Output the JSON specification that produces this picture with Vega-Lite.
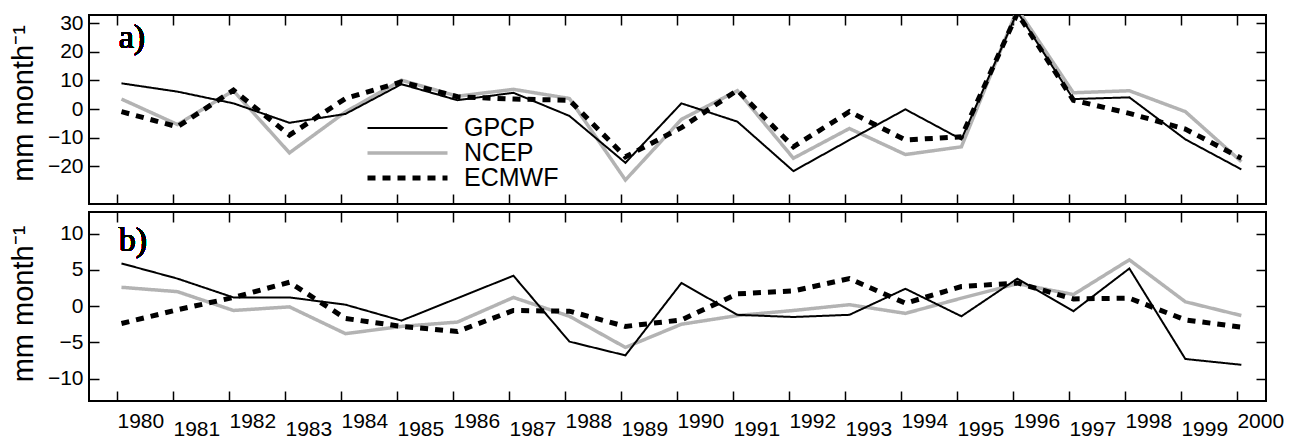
{
  "$schema": "https://vega.github.io/schema/vega-lite/v6.json",
  "padding": {"left": 8, "top": 11, "right": 5, "bottom": 0},
  "background": "white",
  "datasets": {
    "a": [
      {"series": "NCEP", "year": 1980, "value": 3.5}, {"series": "NCEP", "year": 1981, "value": -5.4}, {"series": "NCEP", "year": 1982, "value": 6.4}, {"series": "NCEP", "year": 1983, "value": -15.3}, {"series": "NCEP", "year": 1984, "value": -1.0}, {"series": "NCEP", "year": 1985, "value": 10.1}, {"series": "NCEP", "year": 1986, "value": 4.5}, {"series": "NCEP", "year": 1987, "value": 6.9}, {"series": "NCEP", "year": 1988, "value": 3.7}, {"series": "NCEP", "year": 1989, "value": -24.8}, {"series": "NCEP", "year": 1990, "value": -3.6}, {"series": "NCEP", "year": 1991, "value": 6.4}, {"series": "NCEP", "year": 1992, "value": -17.2}, {"series": "NCEP", "year": 1993, "value": -6.8}, {"series": "NCEP", "year": 1994, "value": -15.9}, {"series": "NCEP", "year": 1995, "value": -13.2}, {"series": "NCEP", "year": 1996, "value": 35}, {"series": "NCEP", "year": 1997, "value": 5.7}, {"series": "NCEP", "year": 1998, "value": 6.4}, {"series": "NCEP", "year": 1999, "value": -0.9}, {"series": "NCEP", "year": 2000, "value": -18.4},
      {"series": "GPCP", "year": 1980, "value": 9.0}, {"series": "GPCP", "year": 1981, "value": 6.1}, {"series": "GPCP", "year": 1982, "value": 2.0}, {"series": "GPCP", "year": 1983, "value": -4.8}, {"series": "GPCP", "year": 1984, "value": -1.7}, {"series": "GPCP", "year": 1985, "value": 8.7}, {"series": "GPCP", "year": 1986, "value": 3.1}, {"series": "GPCP", "year": 1987, "value": 5.7}, {"series": "GPCP", "year": 1988, "value": -2.4}, {"series": "GPCP", "year": 1989, "value": -18.8}, {"series": "GPCP", "year": 1990, "value": 2.0}, {"series": "GPCP", "year": 1991, "value": -4.4}, {"series": "GPCP", "year": 1992, "value": -21.7}, {"series": "GPCP", "year": 1993, "value": -10.8}, {"series": "GPCP", "year": 1994, "value": -0.1}, {"series": "GPCP", "year": 1995, "value": -10.6}, {"series": "GPCP", "year": 1996, "value": 34}, {"series": "GPCP", "year": 1997, "value": 3.5}, {"series": "GPCP", "year": 1998, "value": 4.1}, {"series": "GPCP", "year": 1999, "value": -10.6}, {"series": "GPCP", "year": 2000, "value": -21.1},
      {"series": "ECMWF", "year": 1980, "value": -0.9}, {"series": "ECMWF", "year": 1981, "value": -6.2}, {"series": "ECMWF", "year": 1982, "value": 6.6}, {"series": "ECMWF", "year": 1983, "value": -9.1}, {"series": "ECMWF", "year": 1984, "value": 3.7}, {"series": "ECMWF", "year": 1985, "value": 9.5}, {"series": "ECMWF", "year": 1986, "value": 4.3}, {"series": "ECMWF", "year": 1987, "value": 3.5}, {"series": "ECMWF", "year": 1988, "value": 3.1}, {"series": "ECMWF", "year": 1989, "value": -16.7}, {"series": "ECMWF", "year": 1990, "value": -6.5}, {"series": "ECMWF", "year": 1991, "value": 6.6}, {"series": "ECMWF", "year": 1992, "value": -13.2}, {"series": "ECMWF", "year": 1993, "value": -0.9}, {"series": "ECMWF", "year": 1994, "value": -10.8}, {"series": "ECMWF", "year": 1995, "value": -9.7}, {"series": "ECMWF", "year": 1996, "value": 33.5}, {"series": "ECMWF", "year": 1997, "value": 3.1}, {"series": "ECMWF", "year": 1998, "value": -1.5}, {"series": "ECMWF", "year": 1999, "value": -7.0}, {"series": "ECMWF", "year": 2000, "value": -17.2}
    ],
    "b": [
      {"series": "NCEP", "year": 1980, "value": 2.6}, {"series": "NCEP", "year": 1981, "value": 2.0}, {"series": "NCEP", "year": 1982, "value": -0.6}, {"series": "NCEP", "year": 1983, "value": -0.1}, {"series": "NCEP", "year": 1984, "value": -3.8}, {"series": "NCEP", "year": 1985, "value": -2.8}, {"series": "NCEP", "year": 1986, "value": -2.2}, {"series": "NCEP", "year": 1987, "value": 1.2}, {"series": "NCEP", "year": 1988, "value": -1.4}, {"series": "NCEP", "year": 1989, "value": -5.7}, {"series": "NCEP", "year": 1990, "value": -2.5}, {"series": "NCEP", "year": 1991, "value": -1.3}, {"series": "NCEP", "year": 1992, "value": -0.6}, {"series": "NCEP", "year": 1993, "value": 0.2}, {"series": "NCEP", "year": 1994, "value": -1.0}, {"series": "NCEP", "year": 1995, "value": 1.1}, {"series": "NCEP", "year": 1996, "value": 3.1}, {"series": "NCEP", "year": 1997, "value": 1.6}, {"series": "NCEP", "year": 1998, "value": 6.4}, {"series": "NCEP", "year": 1999, "value": 0.6}, {"series": "NCEP", "year": 2000, "value": -1.3},
      {"series": "GPCP", "year": 1980, "value": 5.9}, {"series": "GPCP", "year": 1981, "value": 3.8}, {"series": "GPCP", "year": 1982, "value": 1.2}, {"series": "GPCP", "year": 1983, "value": 1.2}, {"series": "GPCP", "year": 1984, "value": 0.2}, {"series": "GPCP", "year": 1985, "value": -2.0}, {"series": "GPCP", "year": 1986, "value": 1.1}, {"series": "GPCP", "year": 1987, "value": 4.2}, {"series": "GPCP", "year": 1988, "value": -4.9}, {"series": "GPCP", "year": 1989, "value": -6.8}, {"series": "GPCP", "year": 1990, "value": 3.2}, {"series": "GPCP", "year": 1991, "value": -1.2}, {"series": "GPCP", "year": 1992, "value": -1.5}, {"series": "GPCP", "year": 1993, "value": -1.2}, {"series": "GPCP", "year": 1994, "value": 2.4}, {"series": "GPCP", "year": 1995, "value": -1.4}, {"series": "GPCP", "year": 1996, "value": 3.8}, {"series": "GPCP", "year": 1997, "value": -0.7}, {"series": "GPCP", "year": 1998, "value": 5.2}, {"series": "GPCP", "year": 1999, "value": -7.3}, {"series": "GPCP", "year": 2000, "value": -8.1},
      {"series": "ECMWF", "year": 1980, "value": -2.4}, {"series": "ECMWF", "year": 1981, "value": -0.5}, {"series": "ECMWF", "year": 1982, "value": 1.2}, {"series": "ECMWF", "year": 1983, "value": 3.3}, {"series": "ECMWF", "year": 1984, "value": -1.7}, {"series": "ECMWF", "year": 1985, "value": -2.8}, {"series": "ECMWF", "year": 1986, "value": -3.5}, {"series": "ECMWF", "year": 1987, "value": -0.6}, {"series": "ECMWF", "year": 1988, "value": -0.7}, {"series": "ECMWF", "year": 1989, "value": -2.8}, {"series": "ECMWF", "year": 1990, "value": -1.9}, {"series": "ECMWF", "year": 1991, "value": 1.7}, {"series": "ECMWF", "year": 1992, "value": 2.1}, {"series": "ECMWF", "year": 1993, "value": 3.8}, {"series": "ECMWF", "year": 1994, "value": 0.4}, {"series": "ECMWF", "year": 1995, "value": 2.7}, {"series": "ECMWF", "year": 1996, "value": 3.2}, {"series": "ECMWF", "year": 1997, "value": 1.0}, {"series": "ECMWF", "year": 1998, "value": 1.1}, {"series": "ECMWF", "year": 1999, "value": -1.9}, {"series": "ECMWF", "year": 2000, "value": -2.9}
    ]
  },
  "config": {
    "view": {"stroke": "black", "strokeWidth": 2},
    "concat": {"spacing": 4},
    "axis": {
      "domain": false, "grid": false, "tickSize": -10, "tickColor": "black", "tickWidth": 1.5,
      "labelFont": "Liberation Sans", "labelFontSize": 21, "labelColor": "black",
      "titleFont": "Liberation Sans", "titleFontSize": 29, "titleFontWeight": "normal", "titleColor": "black"
    },
    "legend": {"labelFont": "Liberation Sans", "labelFontSize": 25, "labelColor": "black"}
  },
  "resolve": {"scale": {"x": "independent", "y": "independent"}},
  "vconcat": [
    {
      "width": 1177, "height": 189,
      "data": {"name": "a"},
      "layer": [
        {
          "mark": {"type": "line", "clip": true},
          "encoding": {
            "x": {"field": "year", "type": "quantitative", "scale": {"domain": [1979.42, 2000.44], "nice": false, "zero": false},
                  "axis": {"values": [1979.92, 1980.92, 1981.92, 1982.92, 1983.92, 1984.92, 1985.92, 1986.92, 1987.92, 1988.92, 1989.92, 1990.92, 1991.92, 1992.92, 1993.92, 1994.92, 1995.92, 1996.92, 1997.92, 1998.92, 1999.92], "labels": false, "title": null}},
            "y": {"field": "value", "type": "quantitative", "scale": {"domain": [-33.2, 32.9], "nice": false, "zero": false},
                  "axis": {"values": [-20, -10, 0, 10, 20, 30], "title": "mm month⁻¹", "labelPadding": 16, "titlePadding": 9, "titleY": 88}},
            "color": {"field": "series", "type": "nominal", "scale": {"domain": ["GPCP", "NCEP", "ECMWF"], "range": ["black", "#b3b3b3", "black"]},
                      "legend": {"orient": "none", "legendX": 276, "legendY": 101, "title": null, "symbolType": "stroke", "symbolSize": 6400, "labelOffset": 14, "rowPadding": 0, "clipHeight": 24}},
            "strokeDash": {"field": "series", "type": "nominal", "scale": {"domain": ["GPCP", "NCEP", "ECMWF"], "range": [[1, 0], [1, 0], [8, 7]]}},
            "strokeWidth": {"field": "series", "type": "nominal", "scale": {"domain": ["GPCP", "NCEP", "ECMWF"], "range": [2, 5, 2.7]}}
          }
        },
        {
          "mark": {"type": "text", "font": "Liberation Serif", "fontSize": 34, "fontWeight": "normal", "align": "left", "baseline": "alphabetic", "fill": "black", "text": "a)"},
          "encoding": {
            "x": {"datum": 1979.95, "type": "quantitative",
                  "axis": {"orient": "top", "values": [1979.92, 1980.92, 1981.92, 1982.92, 1983.92, 1984.92, 1985.92, 1986.92, 1987.92, 1988.92, 1989.92, 1990.92, 1991.92, 1992.92, 1993.92, 1994.92, 1995.92, 1996.92, 1997.92, 1998.92, 1999.92], "labels": false, "title": null}},
            "y": {"datum": 21.3, "type": "quantitative",
                  "axis": {"orient": "right", "values": [-20, -10, 0, 10, 20, 30], "labels": false, "title": null}}
          }
        }
      ],
      "resolve": {"axis": {"x": "independent", "y": "independent"}}
    },
    {
      "width": 1177, "height": 189,
      "data": {"name": "b"},
      "layer": [
        {
          "mark": {"type": "line", "clip": true},
          "encoding": {
            "x": {"field": "year", "type": "quantitative", "scale": {"domain": [1979.42, 2000.44], "nice": false, "zero": false},
                  "axis": {"values": [1979.92, 1980.92, 1981.92, 1982.92, 1983.92, 1984.92, 1985.92, 1986.92, 1987.92, 1988.92, 1989.92, 1990.92, 1991.92, 1992.92, 1993.92, 1994.92, 1995.92, 1996.92, 1997.92, 1998.92, 1999.92],
                           "title": null, "labelAlign": "left", "labelBaseline": "top", "labelPadding": 19, "labelLineHeight": 8, "labelFlush": false, "labelOverlap": false,
                           "labelExpr": "round(datum.value) % 2 == 1 ? ['', '' + round(datum.value)] : '' + round(datum.value)"}},
            "y": {"field": "value", "type": "quantitative", "scale": {"domain": [-13.1, 13.0], "nice": false, "zero": false},
                  "axis": {"values": [-10, -5, 0, 5, 10], "title": "mm month⁻¹", "labelPadding": 16, "titlePadding": 9, "titleY": 91.5}},
            "color": {"field": "series", "type": "nominal", "scale": {"domain": ["GPCP", "NCEP", "ECMWF"], "range": ["black", "#b3b3b3", "black"]}, "legend": null},
            "strokeDash": {"field": "series", "type": "nominal", "scale": {"domain": ["GPCP", "NCEP", "ECMWF"], "range": [[1, 0], [1, 0], [8, 7]]}, "legend": null},
            "strokeWidth": {"field": "series", "type": "nominal", "scale": {"domain": ["GPCP", "NCEP", "ECMWF"], "range": [2, 5, 2.7]}, "legend": null}
          }
        },
        {
          "mark": {"type": "text", "font": "Liberation Serif", "fontSize": 34, "fontWeight": "normal", "align": "left", "baseline": "alphabetic", "fill": "black", "text": "b)"},
          "encoding": {
            "x": {"datum": 1979.95, "type": "quantitative",
                  "axis": {"orient": "top", "values": [1979.92, 1980.92, 1981.92, 1982.92, 1983.92, 1984.92, 1985.92, 1986.92, 1987.92, 1988.92, 1989.92, 1990.92, 1991.92, 1992.92, 1993.92, 1994.92, 1995.92, 1996.92, 1997.92, 1998.92, 1999.92], "labels": false, "title": null}},
            "y": {"datum": 7.55, "type": "quantitative",
                  "axis": {"orient": "right", "values": [-10, -5, 0, 5, 10], "labels": false, "title": null}}
          }
        }
      ],
      "resolve": {"axis": {"x": "independent", "y": "independent"}}
    }
  ]
}
